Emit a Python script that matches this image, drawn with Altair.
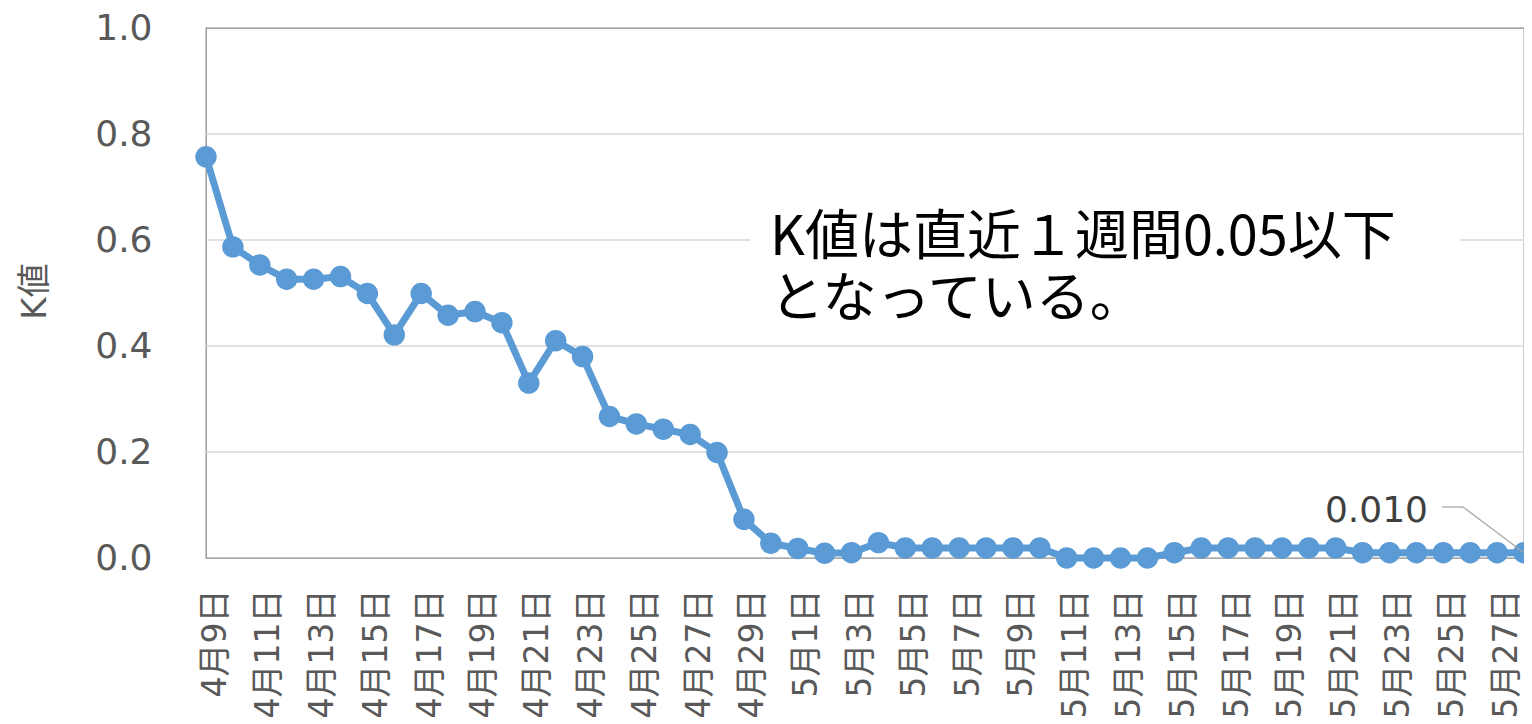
import altair as alt
import pandas as pd

# --- data ---
dates = [f"4月{d}日" for d in range(9, 31)] + [f"5月{d}日" for d in range(1, 29)]
k_values = [
    0.757, 0.587, 0.553, 0.526, 0.526, 0.531, 0.499, 0.421, 0.499, 0.458,
    0.465, 0.444, 0.330, 0.410, 0.380, 0.267, 0.253, 0.243, 0.233, 0.199,
    0.073, 0.028, 0.018, 0.009, 0.010, 0.029, 0.019, 0.019, 0.019, 0.019,
    0.019, 0.019, 0.000, 0.000, 0.000, 0.000, 0.010, 0.019, 0.019, 0.019,
    0.019, 0.019, 0.019, 0.010, 0.010, 0.010, 0.010, 0.010, 0.010, 0.010,
]
tick_dates = dates[::2]
y_ticks = [0.0, 0.2, 0.4, 0.6, 0.8, 1.0]
grid_levels = [0.2, 0.4, 0.6, 0.8]
y_title = "K値"
note_text = "K値は直近１週間0.05以下\nとなっている。"

df = pd.DataFrame({"日付": dates, "K値": k_values})
last = df.iloc[[-1]]

BLUE = "#5B9BD5"
GRAY_TXT = "#595959"
LATIN = "DejaVu Sans, Noto Sans CJK JP"

x_enc = alt.X(
    "日付:N",
    sort=dates,
    scale=alt.Scale(type="point", padding=0, domain=dates),
    axis=alt.Axis(
        values=tick_dates,
        title=None,
        labelAngle=270,
        labelAlign="right",
        labelBaseline="middle",
        labelPadding=31,
        labelOffset=9,
        labelFont=LATIN,
        labelFontSize=33,
        labelColor=GRAY_TXT,
        labelOverlap=False,
        labelFlush=False,
        labelBound=False,
        ticks=False,
        tickSize=0,
        domain=False,
        grid=False,
    ),
)

y_enc = alt.Y(
    "K値:Q",
    scale=alt.Scale(domain=[0, 1], nice=False),
    axis=alt.Axis(
        values=y_ticks,
        format=".1f",
        title=y_title,
        titleFont=LATIN,
        titleFontSize=34,
        titleFontWeight="normal",
        titleColor=GRAY_TXT,
        titleAngle=270,
        titleAlign="center",
        titleBaseline="middle",
        titleX=-171,
        titleY=263,
        labelFont=LATIN,
        labelFontSize=36,
        labelColor=GRAY_TXT,
        labelPadding=54,
        ticks=False,
        tickSize=0,
        domain=False,
        grid=False,
    ),
)

grid = alt.Chart(pd.DataFrame({"K値": grid_levels})).mark_rule(
    color="#D9D9D9", strokeWidth=1.5
).encode(y=y_enc)

box = alt.Chart(pd.DataFrame({"a": [0]})).mark_rect(color="white").encode(
    x=alt.value(544), x2=alt.value(1254), y=alt.value(167), y2=alt.value(307)
)

line = alt.Chart(df).mark_line(color=BLUE, strokeWidth=7).encode(x=x_enc, y=y_enc)
pts = alt.Chart(df).mark_circle(color=BLUE, size=460, opacity=1).encode(x=x_enc, y=y_enc)

leader_h = alt.Chart(pd.DataFrame({"a": [0]})).mark_rule(
    color="#A6A6A6", strokeWidth=1.3
).encode(x=alt.value(1236), x2=alt.value(1257), y=alt.value(479))

leader_d = alt.Chart(last).mark_rule(color="#A6A6A6", strokeWidth=1.3).encode(
    x=x_enc, y=y_enc, x2=alt.value(1257), y2=alt.value(479)
)

label = alt.Chart(last).mark_text(
    align="right", baseline="middle", dx=-96, dy=-42,
    fontSize=36, font=LATIN, color="#404040"
).encode(x=x_enc, y=y_enc, text=alt.Text("K値:Q", format=".3f"))

note = alt.Chart(pd.DataFrame({"note": [note_text]})).mark_text(
    align="left", baseline="top", fontSize=54, font="Noto Sans CJK JP",
    lineHeight=62, lineBreak="\n", color="#000000"
).encode(x=alt.value(564), y=alt.value(184), text="note:N")

chart = alt.layer(grid, box, line, pts, leader_h, leader_d, label, note).properties(
    width=1318,
    height=530,
    autosize=alt.AutoSizeParams(type="none"),
    padding={"left": 198, "top": 20, "right": 0, "bottom": 164},
    background="white",
).configure_view(stroke="#8C8C8C", strokeWidth=1.3)

chart.save("out.html", embed_options={"renderer": "svg", "actions": False})
